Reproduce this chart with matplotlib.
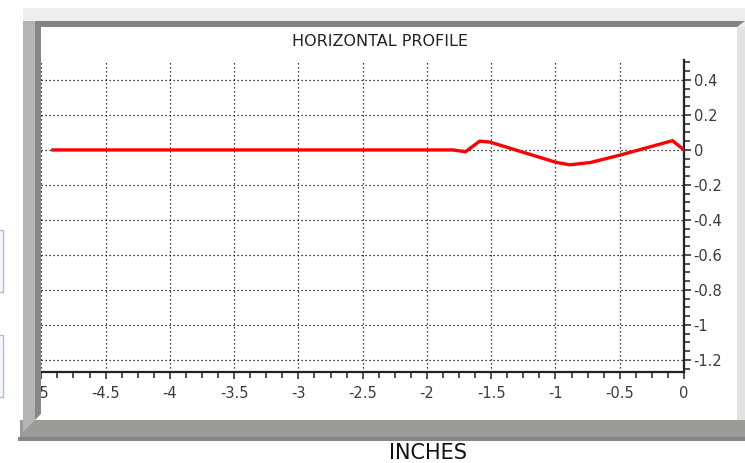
import matplotlib.pyplot as plt
import numpy as np
from matplotlib.patches import Polygon, Rectangle
from matplotlib.ticker import FixedLocator, FixedFormatter, MultipleLocator

# profile (inches, deviation)
profile_x = [-4.91, -1.80, -1.70, -1.59, -1.51, -1.00, -0.89, -0.73, -0.50, -0.09, 0.0]
profile_y = [0.0, 0.0, -0.01, 0.05, 0.045, -0.07, -0.085, -0.072, -0.03, 0.053, 0.0]

x_ticks = [-5, -4.5, -4, -3.5, -3, -2.5, -2, -1.5, -1, -0.5, 0]
x_labels = ['-5', '-4.5', '-4', '-3.5', '-3', '-2.5', '-2', '-1.5', '-1', '-0.5', '0']
y_ticks = [0.4, 0.2, 0, -0.2, -0.4, -0.6, -0.8, -1, -1.2]
y_labels = ['0.4', '0.2', '0', '-0.2', '-0.4', '-0.6', '-0.8', '-1', '-1.2']

title = 'HORIZONTAL PROFILE'
xlabel = 'INCHES'

W, H = 745, 463
fig = plt.figure(figsize=(W / 100, H / 100), dpi=100)
fig.patch.set_facecolor('white')

# background frame, drawn in pixel coords (y down)
bg = fig.add_axes([0, 0, 1, 1], zorder=0)
bg.set_xlim(0, W)
bg.set_ylim(H, 0)
bg.axis('off')

def rect(a, x0, y0, x1, y1, fc, ec='none', lw=0):
    a.add_patch(Rectangle((x0, y0), x1 - x0, y1 - y0, facecolor=fc, edgecolor=ec, linewidth=lw))

def poly(a, pts, fc):
    a.add_patch(Polygon(pts, closed=True, facecolor=fc, edgecolor='none'))

# little boxes peeking in on the left
rect(bg, -5, 230, 3, 292, '#f5f7fb', '#a9bfd6', 1)
rect(bg, -5, 335, 3, 397, '#f5f7fb', '#a9bfd6', 1)

rect(bg, 23, 8, W, 441, '#efedf0')
rect(bg, 23, 21, 35, 441, '#b9b9b9')
rect(bg, 35, 27, 737, 420, 'white')
poly(bg, [(35, 21), (745, 21), (737, 27), (35, 27)], '#838383')
rect(bg, 737, 27, W, 420, '#e2e2e2')
poly(bg, [(20, 420), (W, 420), (W, 438), (20, 438)], '#9a9c98')
rect(bg, 18, 437, W, 441, '#868686')

# main plot
left, right = 41.3, 684
top, bottom = 60, 372
ax = fig.add_axes([left / W, 1 - bottom / H, (right - left) / W, (bottom - top) / H], zorder=2)
ax.patch.set_visible(False)

ax.plot(profile_x, profile_y, color='#ff0000', linewidth=2.4, solid_joinstyle='miter', zorder=3)

ax.set_xlim(-5, 0)
ax.set_ylim(-1.269, 0.514)

ax.xaxis.set_major_locator(FixedLocator(x_ticks))
ax.xaxis.set_major_formatter(FixedFormatter(x_labels))
ax.xaxis.set_minor_locator(MultipleLocator(0.125))
ax.yaxis.set_major_locator(FixedLocator(y_ticks))
ax.yaxis.set_major_formatter(FixedFormatter(y_labels))
ax.yaxis.set_minor_locator(MultipleLocator(0.05))
ax.yaxis.tick_right()

ax.tick_params(which='both', direction='out', colors='#222222', width=1.1)
ax.tick_params(which='major', length=5, labelsize=10.5, labelcolor='#3a3a3a')
ax.tick_params(which='minor', length=4)
ax.tick_params(axis='x', pad=5)
ax.tick_params(axis='y', pad=2)

ax.grid(True, which='major', color='black', linestyle=(0, (1, 2.2)), linewidth=0.9)

for s in ['left', 'top']:
    ax.spines[s].set_visible(False)
for s in ['right', 'bottom']:
    ax.spines[s].set_color('#222222')
    ax.spines[s].set_linewidth(1.6)

# left bevel drawn over the clipped "-5" label
ov = fig.add_axes([0, 0, 1, 1], zorder=5)
ov.patch.set_visible(False)
ov.set_xlim(0, W)
ov.set_ylim(H, 0)
ov.axis('off')
poly(ov, [(23, 21), (35, 21), (35, 420), (23, 432)], '#b4b5b4')
poly(ov, [(35, 21), (41, 27), (41, 414), (35, 420)], '#878787')

fig.text(380 / W, 1 - 42 / H, title, ha='center', va='center', fontsize=11.5, color='#222222')
fig.text(428 / W, 1 - 453 / H, xlabel, ha='center', va='center', fontsize=15, color='#111111')

fig.savefig('out.png', dpi=100)
